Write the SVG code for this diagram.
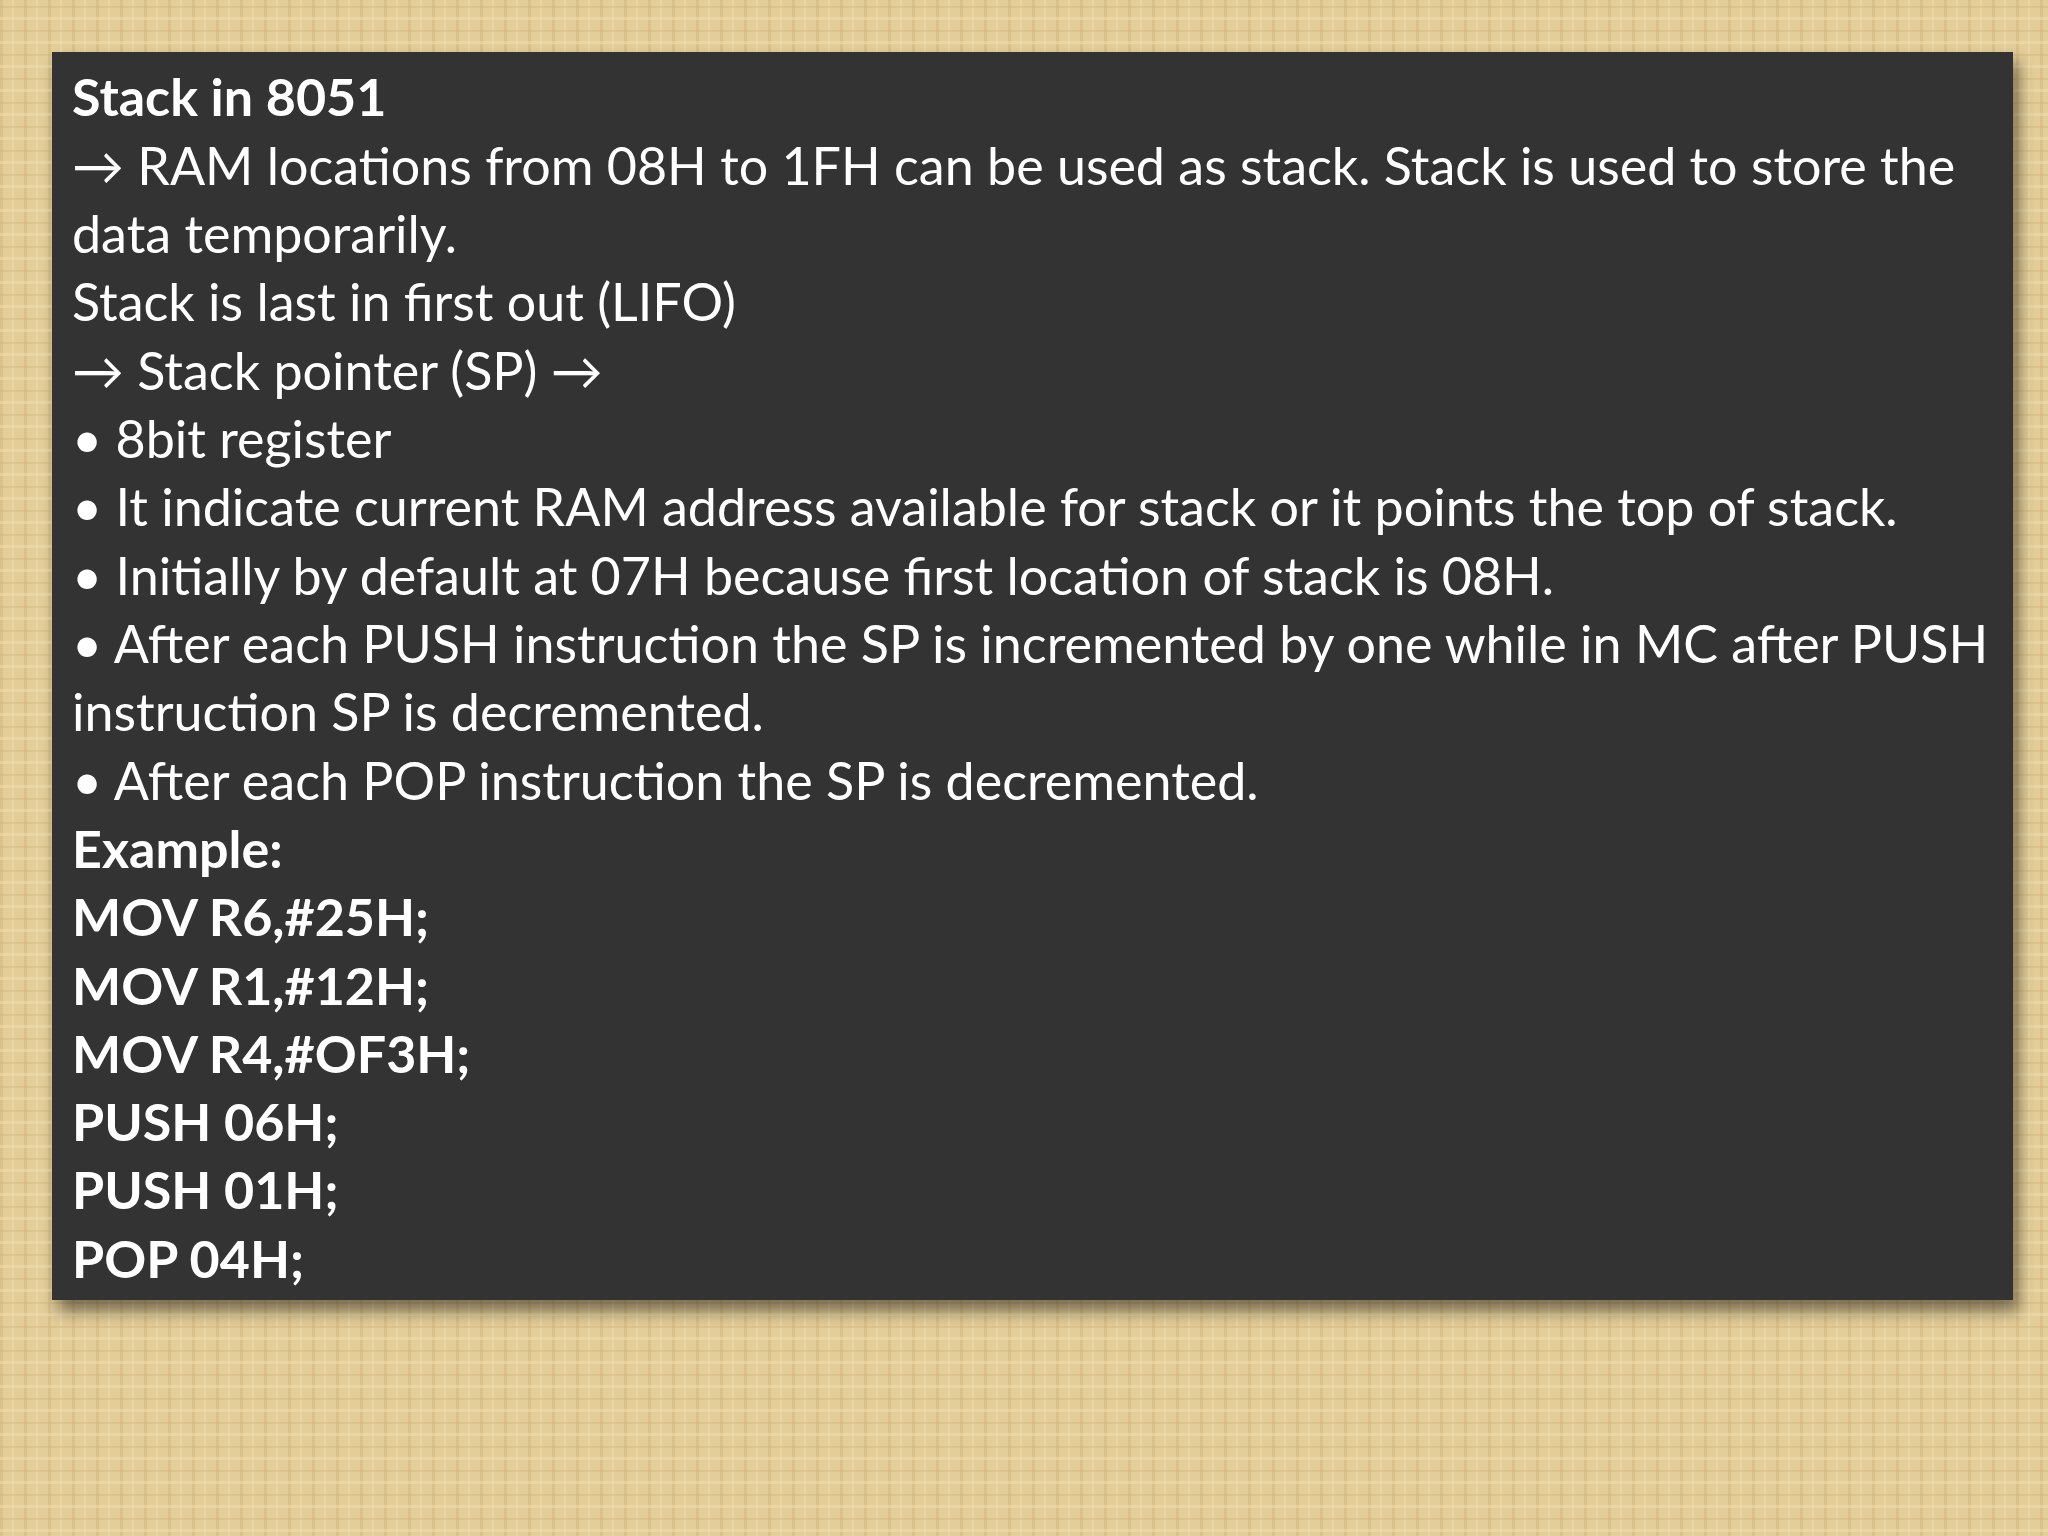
<svg xmlns="http://www.w3.org/2000/svg" width="2048" height="1536" viewBox="0 0 2048 1536">
<defs>
<pattern id="tex" width="24" height="24" patternUnits="userSpaceOnUse">
<rect width="24" height="24" fill="#e3cd98"/>
<rect x="0" y="0" width="3" height="24" fill="#d2b67c" opacity="0.5"/>
<rect x="12" y="0" width="2" height="24" fill="#eedcae" opacity="0.6"/>
<rect x="0" y="6" width="24" height="2" fill="#d3b67c" opacity="0.45"/>
<rect x="0" y="17" width="24" height="3" fill="#efdfb2" opacity="0.5"/>
</pattern>
<filter id="sh" x="-5%" y="-5%" width="110%" height="115%"><feGaussianBlur stdDeviation="8"/></filter>
<style>
text{font-family:Lato,"Noto Sans",sans-serif;font-size:52px;fill:#ffffff}
.b{font-weight:bold}
</style>
</defs>
<rect width="2048" height="1536" fill="url(#tex)"/>
<g id="panel">
<rect x="58" y="62" width="1961" height="1250" fill="#000" opacity="0.45" filter="url(#sh)"/>
<rect x="52" y="52" width="1961" height="1248" fill="#333333"/>
</g>
<g id="text">
<text class="b" x="72" y="116">Stack in 8051</text>
<text x="72" y="185">→ RAM locations from 08H to 1FH can be used as stack. Stack is used to store the</text>
<text x="72" y="253">data temporarily.</text>
<text x="72" y="321">Stack is last in first out (LIFO)</text>
<text x="72" y="390">→ Stack pointer (SP) →</text>
<text x="72" y="458">• 8bit register</text>
<text x="72" y="526">• It indicate current RAM address available for stack or it points the top of stack.</text>
<text x="72" y="595">• Initially by default at 07H because first location of stack is 08H.</text>
<text x="72" y="663">• After each PUSH instruction the SP is incremented by one while in MC after PUSH</text>
<text x="72" y="731">instruction SP is decremented.</text>
<text x="72" y="800">• After each POP instruction the SP is decremented.</text>
<text class="b" x="72" y="868">Example:</text>
<text class="b" x="72" y="936">MOV R6,#25H;</text>
<text class="b" x="72" y="1005">MOV R1,#12H;</text>
<text class="b" x="72" y="1073">MOV R4,#OF3H;</text>
<text class="b" x="72" y="1141">PUSH 06H;</text>
<text class="b" x="72" y="1209">PUSH 01H;</text>
<text class="b" x="72" y="1278">POP 04H;</text>
</g>
</svg>
